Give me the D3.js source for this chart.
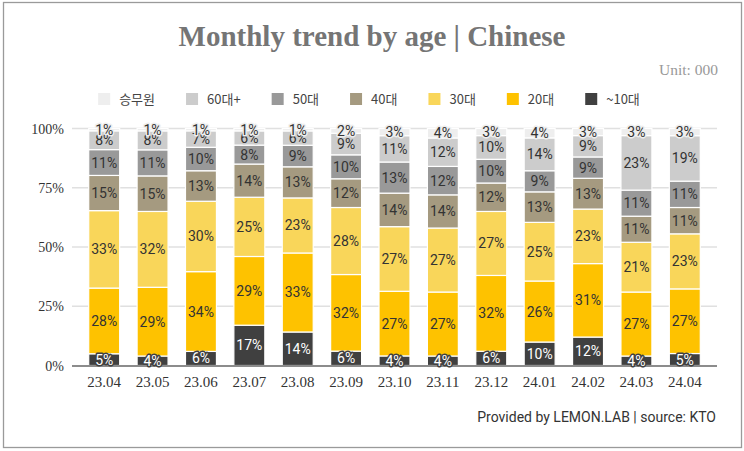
<!DOCTYPE html>
<html><head><meta charset="utf-8">
<script src="https://cdn.jsdelivr.net/npm/d3@7"></script>
<style>body{margin:0;background:#fff}svg{display:block}</style>
</head><body>
<svg id="c" width="744" height="451"></svg>
<script>
const months = ["23.04","23.05","23.06","23.07","23.08","23.09","23.10","23.11","23.12","24.01","24.02","24.03","24.04"];
const groups = ["~10대","20대","30대","40대","50대","60대+","승무원"];
const legendOrder = ["승무원","60대+","50대","40대","30대","20대","~10대"];
const colors = ["#404040","#fec200","#f9d65a","#a59a80","#999999","#cccccc","#eeeeee"];
const teens   = [5,4,6,17,14,6,4,4,6,10,12,4,5];
const twenties= [28,29,34,29,33,32,27,27,32,26,31,27,27];
const thirties= [33,32,30,25,23,28,27,27,27,25,23,21,23];
const forties = [15,15,13,14,13,12,14,14,12,13,13,11,11];
const fifties = [11,11,10,8,9,10,13,12,10,9,9,11,11];
const sixties = [8,8,7,6,6,9,11,12,10,14,9,23,19];
const crew    = [1,1,1,1,1,2,3,4,3,4,3,3,3];
const yTicks = [0,0.25,0.5,0.75,1];

const series = [teens,twenties,thirties,forties,fifties,sixties,crew];
const rows = months.map((m,i)=>{const r={month:m}; groups.forEach((g,j)=>r[g]=series[j][i]); return r;});
const stack = d3.stack().keys(groups).offset(d3.stackOffsetExpand)(rows);
const color = d3.scaleOrdinal().domain(groups).range(colors);

const svg = d3.select("#c");
svg.append("rect").attr("x",3.5).attr("y",2.5).attr("width",738).attr("height",445)
  .attr("fill","#fff").attr("stroke","#9a9a9a").attr("stroke-width",1.3);

svg.append("text").attr("x",372).attr("y",46).attr("text-anchor","middle")
  .attr("font-family","Liberation Serif, serif").attr("font-weight","bold").attr("font-size",29)
  .attr("fill","#757575").text("Monthly trend by age | Chinese");
svg.append("text").attr("x",718).attr("y",75).attr("text-anchor","end")
  .attr("font-family","Liberation Serif, serif").attr("font-size",15.5)
  .attr("fill","#999").text("Unit: 000");

// legend
const lg = svg.append("g");
let lx = 0;
legendOrder.forEach(k=>{
  const g = lg.append("g").attr("transform",`translate(${lx},0)`);
  g.append("rect").attr("x",0).attr("y",-6).attr("width",12).attr("height",12).attr("fill",color(k));
  const t = g.append("text").attr("x",21).attr("y",5).attr("font-family","Noto Sans CJK KR, sans-serif")
    .attr("font-size",13).attr("fill","#444").text(k);
  lx += 21 + t.node().getComputedTextLength() + 31;
});
const lw = lx - 31;
lg.attr("transform",`translate(${369 - lw/2},99)`);

const x = d3.scaleBand().domain(months).range([80,709]).paddingInner(0.36).paddingOuter(0.18);
const y = d3.scaleLinear().domain([0,1]).range([365.5,128.5]);

// gridlines
svg.append("g").selectAll("line").data(yTicks.slice(1)).join("line")
  .attr("x1",72).attr("x2",717).attr("y1",d=>y(d)).attr("y2",d=>y(d))
  .attr("stroke","#e0e0e0").attr("stroke-width",1.3);
svg.append("g").selectAll("text").data(yTicks).join("text")
  .attr("x",64).attr("y",d=>y(d)+5).attr("text-anchor","end")
  .attr("font-family","Liberation Serif, serif").attr("font-size",14).attr("fill","#333")
  .text(d=>d3.format(".0%")(d));

// bars
const layers = svg.append("g").selectAll("g").data(stack).join("g").attr("fill",d=>color(d.key));
layers.selectAll("rect").data(d=>d).join("rect")
  .attr("x",d=>x(d.data.month)).attr("width",x.bandwidth())
  .attr("y",d=>y(d[1])).attr("height",d=>y(d[0])-y(d[1]))
  .attr("stroke","#fff").attr("stroke-width",1.2);

// baseline
svg.append("line").attr("x1",72).attr("x2",717).attr("y1",y(0)+0.5).attr("y2",y(0)+0.5)
  .attr("stroke","#666").attr("stroke-width",1.5);

// labels
stack.forEach((s,j)=>{
  const dark = s.key==="~10대";
  svg.append("g").selectAll("text").data(s).join("text")
    .attr("x",d=>x(d.data.month)+x.bandwidth()/2)
    .attr("y",d=>{const c=(y(d[0])+y(d[1]))/2; return c+5;})
    .attr("text-anchor","middle").attr("font-family","Roboto, sans-serif").attr("font-size",14)
    .attr("fill",dark?"#fff":"#333").attr("stroke",color(s.key)).attr("stroke-width",3)
    .attr("paint-order","stroke").attr("stroke-linejoin","round")
    .text(d=>d.data[s.key]+"%");
});

// x labels
svg.append("g").selectAll("text").data(months).join("text")
  .attr("x",d=>x(d)+x.bandwidth()/2).attr("y",387).attr("text-anchor","middle")
  .attr("font-family","Liberation Serif, serif").attr("font-size",15).attr("fill","#333").text(d=>d);

svg.append("text").attr("x",716).attr("y",422).attr("text-anchor","end")
  .attr("font-family","Roboto, sans-serif").attr("font-size",14).attr("fill","#333")
  .text("Provided by LEMON.LAB | source: KTO");
</script>
</body></html>
